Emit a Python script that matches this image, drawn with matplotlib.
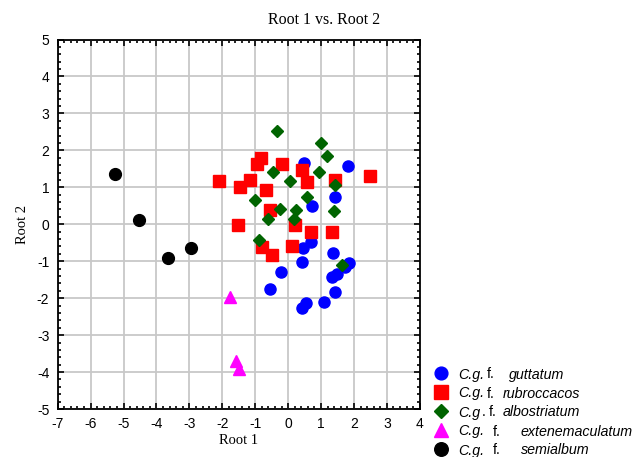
import matplotlib.pyplot as plt
from matplotlib.ticker import MultipleLocator, AutoMinorLocator
from matplotlib.lines import Line2D

# canonical scores
gut_x = [0.48, 1.82, 1.42, 0.74, 0.71, 0.44, 1.35, 0.42, 1.84, 1.72, -0.22, 1.47, 1.32, -0.54, 1.42, 0.53, 0.42, 1.08]
gut_y = [1.65, 1.57, 0.75, 0.49, -0.47, -0.65, -0.79, -1.02, -1.04, -1.15, -1.29, -1.35, -1.42, -1.74, -1.83, -2.12, -2.27, -2.10]

rub_x = [-0.83, -0.94, -0.18, 0.42, -2.10, -1.15, -1.46, 0.58, 1.43, 2.49, -0.66, -0.56, -1.53, 0.21, 0.68, 1.32, 0.12, -0.78, -0.49]
rub_y = [1.80, 1.64, 1.62, 1.47, 1.16, 1.19, 1.00, 1.15, 1.20, 1.31, 0.92, 0.39, -0.03, -0.03, -0.22, -0.22, -0.58, -0.61, -0.83]

alb_x = [-0.33, 0.99, 1.17, -0.47, 0.94, 0.06, 1.43, -1.02, 0.57, -0.25, 0.25, -0.62, 0.19, 1.39, -0.88, 1.65]
alb_y = [2.52, 2.21, 1.86, 1.42, 1.42, 1.16, 1.07, 0.66, 0.75, 0.41, 0.39, 0.14, 0.15, 0.36, -0.43, -1.10]

ext_x = [-1.77, -1.57, -1.50]
ext_y = [-1.96, -3.69, -3.93]

sem_x = [-5.26, -4.53, -3.66, -2.95]
sem_y = [1.36, 0.11, -0.92, -0.64]

# legend labels split into (text, style) pieces
labels = [[('C.g.', 'italic'), ('f.', 'normal'), ('guttatum', 'italic')],
          [('C.g.', 'italic'), ('f.', 'normal'), ('rubroccacos', 'italic')],
          [('C.g', 'italic'), ('.', 'normal'), ('f.', 'normal'), ('albostriatum', 'italic')],
          [('C.g.', 'italic'), ('f.', 'normal'), ('extenemaculatum', 'italic')],
          [('C.g.', 'italic'), ('f.', 'normal'), ('semialbum', 'italic')]]
# where each piece starts, in pixels (the original uses uneven gaps)
piece_x = [[458, 487, 509],
           [458, 487, 503],
           [458, 482, 489, 503],
           [458, 493, 521],
           [458, 493, 521]]

plt.rcParams['axes.unicode_minus'] = False

W, H = 638, 457
fig = plt.figure(figsize=(W / 100, H / 100), dpi=100)
ax = fig.add_axes([0.0904, 0.105, 0.5676, 0.8085])

# (x, y, marker, colour, size, zorder)
groups = [(gut_x, gut_y, 'o', '#0000ff', 8, 3),
          (rub_x, rub_y, 's', '#ff0000', 8.5, 4),
          (alb_x, alb_y, 'D', '#006400', 6.2, 5),
          (ext_x, ext_y, '^', '#ff00ff', 9, 5),
          (sem_x, sem_y, 'o', '#000000', 8.5, 5)]

for xs, ys, mk, col, ms, z in groups:
    ax.plot(xs, ys, mk, color=col, markersize=ms, linestyle='none', zorder=z)

ax.set_xlim(-7, 4)
ax.set_ylim(-5, 5)
ax.xaxis.set_major_locator(MultipleLocator(1))
ax.yaxis.set_major_locator(MultipleLocator(1))
ax.xaxis.set_minor_locator(AutoMinorLocator(5))
ax.yaxis.set_minor_locator(AutoMinorLocator(5))
ax.grid(True, which='major', color='#c8c8c8', linewidth=1.3)
ax.set_axisbelow(True)

ax.tick_params(which='both', direction='in', top=True, right=True, width=1.2)
ax.tick_params(which='major', length=4, pad=6, labelsize=10)
ax.tick_params(which='minor', length=2.5)
for t in ax.get_xticklabels() + ax.get_yticklabels():
    t.set_family('Liberation Sans')
for s in ax.spines.values():
    s.set_linewidth(1.3)

ax.set_xlabel('Root 1', family='Liberation Serif', fontsize=10.5, labelpad=2)
ax.set_ylabel('Root 2', family='Liberation Serif', fontsize=10.5, labelpad=6)
fig.text(0.508, 0.956, 'Root 1 vs. Root 2', family='Liberation Serif', fontsize=11.5, ha='center', va='center')

# hand made legend, so that only parts of each label are italic
for i, g in enumerate(groups):
    yc = 1 - (373 + 19 * i) / H
    fig.add_artist(Line2D([441 / W], [yc], marker=g[2], color=g[3], markersize=g[4] * 1.15,
                          linestyle='none', transform=fig.transFigure))
    for (txt, st), px in zip(labels[i], piece_x[i]):
        fig.text(px / W, yc, txt, style=st, family='Liberation Sans', fontsize=10.3, va='center_baseline')

fig.savefig('out.png', dpi=100)
